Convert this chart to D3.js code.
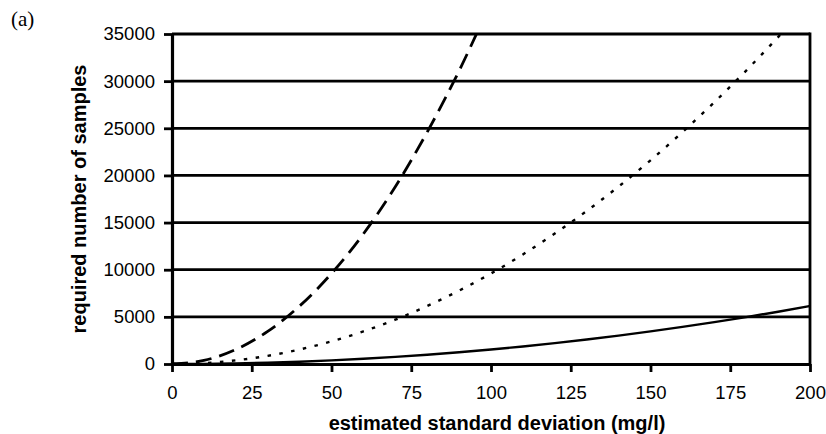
<!DOCTYPE html>
<html>
<head>
<meta charset="utf-8">
<script src="https://cdn.jsdelivr.net/npm/d3@7"></script>
<style>
  body { margin: 0; background: #fff; }
  svg { display: block; }
</style>
</head>
<body>
<div id="chart"></div>
<script>
// values
const sdValues = [0, 10, 20, 30, 40, 50, 60, 70, 80, 90, 100, 110, 120, 130, 140, 150, 160, 170, 180, 190, 200]
const dashedSeries = [0, 380, 1540, 3460, 6150, 9600, 13800, 18800, 24600, 31100, 38400]
const dottedSeries = [0, 96, 385, 865, 1540, 2400, 3460, 4700, 6150, 7780, 9600, 11620, 13830, 16230, 18820, 21600, 24590, 27760, 31120, 34670, 38400]
const solidSeries = [0, 15, 61, 138, 246, 384, 553, 753, 983, 1245, 1537, 1860, 2213, 2597, 3012, 3457, 3933, 4440, 4978, 5546, 6146]
const xTicks = [0, 25, 50, 75, 100, 125, 150, 175, 200]
const yTicks = [0, 5000, 10000, 15000, 20000, 25000, 30000, 35000]

const width = 826, height = 434
const margin = { top: 34, right: 16, bottom: 70, left: 172 }
const innerW = width - margin.left - margin.right
const innerH = height - margin.top - margin.bottom
const sans = '"Liberation Sans", Arial, sans-serif'

const svg = d3.select('#chart').append('svg')
  .attr('width', width)
  .attr('height', height)

svg.append('text')
  .attr('x', 11).attr('y', 26)
  .style('font-family', '"Liberation Serif", "Times New Roman", serif')
  .style('font-size', '21px')
  .text('(a)')

const g = svg.append('g')
  .attr('transform', `translate(${margin.left},${margin.top})`)

const x = d3.scaleLinear().domain([0, 200]).range([0, innerW])
const y = d3.scaleLinear().domain([0, 35000]).range([innerH, 0])

g.append('clipPath').attr('id', 'plot-clip')
  .append('rect')
    .attr('x', 0).attr('y', 0)
    .attr('width', innerW).attr('height', innerH)

// gridlines
g.append('g').classed('grid', true)
  .selectAll('line')
  .data(yTicks.filter(d => d > 0))
  .join('line')
    .attr('x1', 0).attr('x2', innerW)
    .attr('y1', d => y(d)).attr('y2', d => y(d))
    .attr('stroke', '#000')
    .attr('stroke-width', 2.8)

// right border
g.append('line')
  .attr('x1', innerW).attr('x2', innerW)
  .attr('y1', -1.4).attr('y2', innerH)
  .attr('stroke', '#000').attr('stroke-width', 2.8)

const series = [
  { values: dashedSeries, dash: '16,8', w: 2.8 },
  { values: dottedSeries, dash: '3.5,8.5', w: 2.4 },
  { values: solidSeries, dash: null, w: 2.4 }
]

const line = d3.line()
  .x((d, i) => x(sdValues[i]))
  .y(d => y(d))
  .curve(d3.curveMonotoneX)

g.append('g').attr('clip-path', 'url(#plot-clip)')
  .selectAll('path')
  .data(series)
  .join('path')
    .attr('d', d => line(d.values))
    .attr('fill', 'none')
    .attr('stroke', '#000')
    .attr('stroke-width', d => d.w)
    .attr('stroke-dasharray', d => d.dash)

// axes
const xAxis = g.append('g')
  .attr('transform', `translate(0,${innerH})`)
  .call(d3.axisBottom(x).tickValues(xTicks).tickSize(8).tickPadding(14).tickSizeOuter(0))
const yAxis = g.append('g')
  .call(d3.axisLeft(y).tickValues(yTicks).tickFormat(d3.format('d')).tickSize(8).tickPadding(9).tickSizeOuter(0))

;[xAxis, yAxis].forEach(ax => {
  ax.select('.domain').attr('stroke', '#000').attr('stroke-width', 3.2)
  ax.selectAll('.tick line').attr('stroke', '#000').attr('stroke-width', 2.8)
  ax.selectAll('.tick text')
    .attr('fill', '#000')
    .style('font-family', sans)
    .style('font-size', '18.5px')
})
xAxis.selectAll('.tick text').attr('dy', null).attr('y', 8 + 14 + 13)

svg.append('text')
  .attr('x', 497)
  .attr('y', 430)
  .attr('text-anchor', 'middle')
  .style('font-family', sans)
  .style('font-weight', 'bold')
  .style('font-size', '20px')
  .text('estimated standard deviation (mg/l)')

svg.append('text')
  .attr('transform', `translate(86,${margin.top + innerH / 2}) rotate(-90)`)
  .attr('text-anchor', 'middle')
  .style('font-family', sans)
  .style('font-weight', 'bold')
  .style('font-size', '20px')
  .text('required number of samples')
</script>
</body>
</html>
